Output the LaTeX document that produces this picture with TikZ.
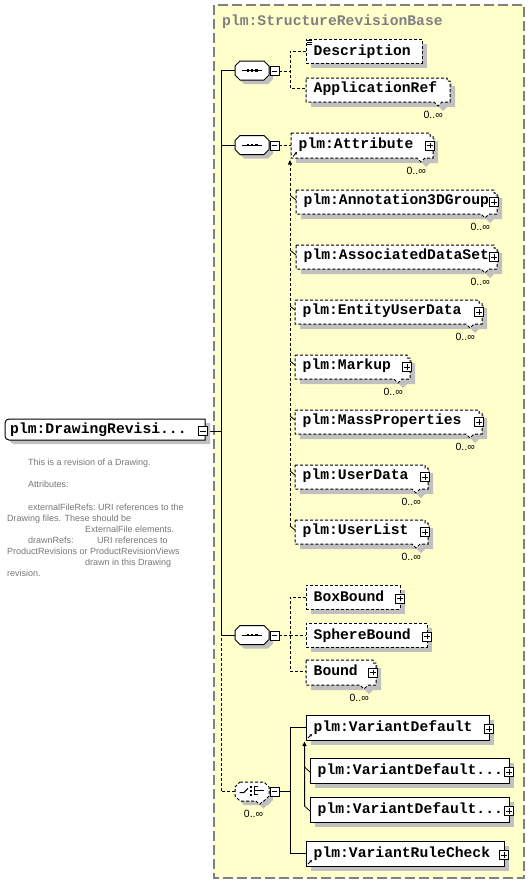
\documentclass[tikz,border=0pt]{standalone}
\usepackage{fontspec}
\newfontfamily\nmfont{Liberation Mono}
\newfontfamily\sansf{Liberation Sans}
\usetikzlibrary{arrows.meta,calc}
\pgfdeclarelayer{back}
\pgfdeclarelayer{conn}
\pgfsetlayers{back,conn,main}
\definecolor{bgyel}{HTML}{FFFFCC}
\definecolor{bordg}{HTML}{808080}
\definecolor{shadc}{HTML}{C0C0C0}
\definecolor{annc}{HTML}{777777}
\tikzset{
  nm/.style={font=\nmfont\bfseries\fontsize{14.7bp}{16bp}\selectfont, inner sep=0pt, text height=8bp, text depth=0bp},
  ann/.style={font=\sansf\fontsize{9bp}{11bp}\selectfont, text=annc, inner sep=0pt, anchor=base west},
  occ/.style={font=\sansf\fontsize{10.5bp}{12bp}\selectfont, inner sep=0pt, anchor=east, text height=7bp, text depth=0bp},
  dsh/.style={dash pattern=on 3bp off 2bp},
  ln/.style={line width=1bp, draw=black},
  boxnode/.style={inner sep=0pt, outer sep=0pt},
  plusb/.style={draw, fill=white, line width=1bp, minimum size=9bp, inner sep=0pt, outer sep=0pt,
    path picture={\draw[line width=1bp] ([xshift=-2.8bp]path picture bounding box.center) -- ([xshift=2.8bp]path picture bounding box.center);
                  \draw[line width=1bp] ([yshift=-2.8bp]path picture bounding box.center) -- ([yshift=2.8bp]path picture bounding box.center);}},
  minusb/.style={draw, fill=white, line width=1bp, minimum size=9bp, inner sep=0pt, outer sep=0pt,
    path picture={\draw[line width=1bp] ([xshift=-2.8bp]path picture bounding box.center) -- ([xshift=2.8bp]path picture bounding box.center);}},
  refarrow/.style={line width=0.8bp, -{Stealth[length=2.8bp,width=2.8bp]}},
  subarrow/.style={-{Triangle[length=4.5bp,width=4bp]}},
}
% single element box: name, x0, y0, x1, y1, style, text
\newcommand\elsingle[7]{%
  \fill[shadc] (#2+5,#3+5) rectangle (#4+5,#5+5);
  \node[boxnode, draw, fill=white, line width=1bp, #6, minimum width={(#4-#2)*1bp}, minimum height={(#5-#3)*1bp}] (#1) at ({(#2+#4)/2},{(#3+#5)/2}) {};
  \node[nm, anchor=west] (#1-t) at ([xshift=7.5bp]#1.west) {#7};
}
% multiple-occurrence element box: name, x0, y0, x1, y1 (front box), style, text
\newcommand\elmulti[7]{%
  \fill[shadc] (#2+5,#3+5) -- (#4+5,#3+5) -- (#4+5,#3+8) -- (#4+8,#3+8) -- (#4+8,#5+8) -- (#4,#5+8) -- (#4-4,#5+12) -- (#4-8,#5+8) -- (#2+5,#5+8) -- cycle;
  \draw[line width=1bp, fill=white, #6] (#2,#3) -- (#4,#3) -- (#4,#3+3) -- (#4+3,#3+3) -- (#4+3,#5+3) -- (#4-5,#5+3) -- (#4-9,#5+7) -- (#4-13,#5+3) -- (#2,#5+3) -- cycle;
  \node[boxnode, minimum width={(#4-#2)*1bp}, minimum height={(#5-#3)*1bp}] (#1) at ({(#2+#4)/2},{(#3+#5)/2}) {};
  \node[nm, anchor=west] (#1-t) at ([xshift=7.5bp]#1.west) {#7};
  \node[occ] (#1-o) at (#4-4,#5+16) {0..∞};
}
% sequence compositor icon: name, center
\newcommand\seqicon[2]{%
  \begin{scope}[shift={#2}]
    \fill[shadc] (-8,-5.5) -- (16,-5.5) -- (21,-0.5) -- (21,8.5) -- (16,13.5) -- (-8,13.5) -- (-13,8.5) -- (-13,-0.5) -- cycle;
    \draw[line width=1bp, fill=white] (-12,-9.5) -- (12,-9.5) -- (17,-4.5) -- (17,4.5) -- (12,9.5) -- (-12,9.5) -- (-17,4.5) -- (-17,-4.5) -- cycle;
    \draw[line width=1bp] (-10.5,0) -- (9.5,0);
    \fill (-5.5,-1.2) rectangle (-2.8,1.2);
    \fill (-1.5,-1.2) rectangle (1.2,1.2);
    \fill (2.9,-1.2) rectangle (5.5,1.2);
    \node[boxnode, minimum width=34bp, minimum height=19bp] (#1) at (0,0) {};
    \node[minusb] (#1-m) at (22.5,0.5) {};
  \end{scope}}
\begin{document}
\begin{tikzpicture}[x=1bp,y=-1bp]
\useasboundingbox (0,0) rectangle (530,884);
\begin{pgfonlayer}{back}
  \fill[white] (0,0) rectangle (530,884);
  \draw[fill=bgyel, draw=bordg, line width=1.5bp, dash pattern=on 10bp off 4bp] (214,5) rectangle (524,878);
\end{pgfonlayer}

% title
\node[nm, text=bordg, anchor=west] (title) at (222,21) {plm:StructureRevisionBase};

% root element
\fill[shadc] (210,423) -- (14,423) arc[start angle=270,end angle=180,radius=4] -- (10,440) arc[start angle=180,end angle=90,radius=4] -- (210,444) -- cycle;
\draw[line width=1bp, fill=white] (205,419) -- (9,419) arc[start angle=270,end angle=180,radius=4] -- (5,436) arc[start angle=180,end angle=90,radius=4] -- (205,440) -- cycle;
\node[boxnode, minimum width=200bp, minimum height=21bp] (root) at (105,429.5) {};
\node[nm, anchor=west] (root-t) at (10,429.5) {plm:DrawingRevisi...};
\node[minusb] (root-m) at (203,431) {};

% annotation
\node[ann] (a1) at (28,465.5) {This is a revision of a Drawing.};
\node[ann] (a2) at (28,487.5) {Attributes:};
\node[ann] (a3) at (28,510.5) {externalFileRefs:};
\node[ann] (a3b) at (98,510.5) {URI references to the};
\node[ann] (a4) at (7,521.5) {Drawing files. These should be};
\node[ann] (a5) at (85,532.5) {ExternalFile elements.};
\node[ann] (a6) at (28,543.5) {drawnRefs:};
\node[ann] (a6b) at (97,543.5) {URI references to};
\node[ann] (a7) at (7,554.5) {ProductRevisions or ProductRevisionViews};
\node[ann] (a8) at (85,565.5) {drawn in this Drawing};
\node[ann] (a9) at (7,576.5) {revision.};

% compositors
\seqicon{seq1}{(252,70.5)}
\seqicon{seq2}{(252,145)}
\seqicon{seq3}{(252,635)}
% choice
\begin{scope}[shift={(252,791.5)}]
  \fill[shadc] (-8,-5.5) -- (16,-5.5) -- (21,-0.5) -- (21,8.5) -- (16,13.5) -- (15,13.5) -- (11.5,17) -- (8,13.5) -- (-8,13.5) -- (-13,8.5) -- (-13,-0.5) -- cycle;
  \draw[line width=1bp, fill=white, dsh] (-12,-9.5) -- (12,-9.5) -- (17,-4.5) -- (17,4.5) -- (12,9.5) -- (11,9.5) -- (7.5,13) -- (4,9.5) -- (-12,9.5) -- (-17,4.5) -- (-17,-4.5) -- cycle;
  \draw[line width=1bp] (-12.3,1.2) -- (-8.3,1.2) -- (-4,-3.2);
  \fill (-2.5,-5.8) rectangle (0,-3.8);
  \fill (-2.5,-1.8) rectangle (0,0.2);
  \fill (-2.5,2.2) rectangle (0,4.2);
  \draw[line width=1bp] (2,-4.8) -- (2,3.2);
  \draw[line width=1bp] (2,-4.8) -- (6,-4.8) (2,-0.8) -- (12,-0.8) (2,3.2) -- (6,3.2);
  \node[boxnode, minimum width=34bp, minimum height=19bp] (ch) at (0,0) {};
  \node[minusb] (ch-m) at (22.5,0) {};
  \node[occ, anchor=center] (ch-o) at (1.5,22.5) {0..∞};
\end{scope}

% sequence 1 members
\elsingle{desc}{306}{39}{422}{63}{dsh}{Description}
\draw[line width=0.8bp] (306.5,40.6) -- (311.5,40.6) (306.5,42.4) -- (311.5,42.4) (306.5,44.2) -- (311.5,44.2);
\elmulti{appref}{306}{78}{447}{99}{dsh}{ApplicationRef}

% sequence 2 members
\elmulti{attr}{291}{133}{430}{155}{dsh}{plm:Attribute}
\node[plusb] (attr-p) at ([yshift=-1.5bp]attr.east) {};
\draw[refarrow] ([shift={(2,1.5)}]attr.south west) -- ++(4,-4.5);
\elmulti{ann3d}{296}{190}{494}{211}{dsh}{plm:Annotation3DGroup}
\node[plusb] (ann3d-p) at ([yshift=-1.5bp]ann3d.east) {};
\elmulti{assoc}{296}{245}{494}{266}{dsh}{plm:AssociatedDataSet}
\node[plusb] (assoc-p) at ([yshift=-1.5bp]assoc.east) {};
\elmulti{entity}{295}{300}{479}{321}{dsh}{plm:EntityUserData}
\node[plusb] (entity-p) at ([yshift=-1.5bp]entity.east) {};
\elmulti{markup}{295}{355}{407}{376}{dsh}{plm:Markup}
\node[plusb] (markup-p) at ([yshift=-1.5bp]markup.east) {};
\elmulti{mass}{295}{410}{479}{431}{dsh}{plm:MassProperties}
\node[plusb] (mass-p) at ([yshift=-1.5bp]mass.east) {};
\elmulti{udata}{295}{465}{425}{486}{dsh}{plm:UserData}
\node[plusb] (udata-p) at ([yshift=-1.5bp]udata.east) {};
\elmulti{ulist}{295}{520}{425}{541}{dsh}{plm:UserList}
\node[plusb] (ulist-p) at ([yshift=-1.5bp]ulist.east) {};

% sequence 3 members
\elsingle{boxb}{306}{585}{400}{609}{dsh}{BoxBound}
\node[plusb] (boxb-p) at ([yshift=-1.5bp]boxb.east) {};
\elsingle{sphere}{306}{623}{427}{647}{dsh}{SphereBound}
\node[plusb] (sphere-p) at ([yshift=-1.5bp]sphere.east) {};
\elmulti{bound}{306}{660}{373}{682}{dsh}{Bound}
\node[plusb] (bound-p) at ([yshift=-1.5bp]bound.east) {};

% choice members
\elsingle{vdef}{306}{715}{489}{740}{solid}{plm:VariantDefault}
\node[plusb] (vdef-p) at ([yshift=-1.5bp]vdef.east) {};
\draw[refarrow] ([shift={(2,-2)}]vdef.south west) -- ++(4,-4);
\elsingle{vd2}{310}{758}{509}{783}{solid}{plm:VariantDefault...}
\node[plusb] (vd2-p) at ([yshift=-1.5bp]vd2.east) {};
\elsingle{vd3}{310}{797}{509}{822}{solid}{plm:VariantDefault...}
\node[plusb] (vd3-p) at ([yshift=-1.5bp]vd3.east) {};
\elsingle{vrule}{306}{841}{504}{866}{solid}{plm:VariantRuleCheck}
\node[plusb] (vrule-p) at ([yshift=-1.5bp]vrule.east) {};
\draw[refarrow] ([shift={(2,-2)}]vrule.south west) -- ++(4,-4);

% connectors
\begin{pgfonlayer}{conn}
  \coordinate (tr) at (221,431);
  \coordinate (jx) at (290,0);
  \draw[ln] (root-m.east) -- (tr);
  \draw[ln] (seq1.west) -| (tr);
  \draw[ln] (seq2.west) -| (tr);
  \draw[ln] (seq3.west) -| (tr);
  \draw[ln, dsh] (ch.west) -| (tr |- seq3.west);
  % sequence 1
  \draw[ln, dsh] (seq1-m.east) -- (seq1-m.east -| jx);
  \draw[ln, dsh] (desc.west) -| (jx |- appref.west) -- (appref.west);
  % sequence 2
  \draw[ln, dsh] (seq2-m.east) -- (seq2-m.east -| attr.west);
  \coordinate (attrtip) at (290,160);
  \draw[ln, dsh, subarrow] ($(ulist.north west)+(-5,6)$) -- (attrtip);
  \foreach \m in {ann3d,assoc,entity,markup,mass,udata,ulist}{
    \draw[line width=0.8bp] ($(\m.north west)+(-5,6)$) -- ($(\m.north west)+(0,10)$);
  }
  % sequence 3
  \draw[ln, dsh] (seq3-m.east) -- (seq3-m.east -| jx);
  \draw[ln, dsh] (boxb.west) -| (jx |- bound.west) -- (bound.west);
  \draw[ln, dsh] (jx |- sphere.west) -- (sphere.west);
  % choice
  \draw[ln] (ch-m.east) -- (ch-m.east -| jx);
  \draw[ln] (vdef.west) -| (jx |- vrule.west) -- (vrule.west);
  \coordinate (vdtip) at (304.5,741.5);
  \draw[ln, subarrow] ($(vd3.north west)+(-5.5,9)$) -- (vdtip);
  \foreach \m in {vd2,vd3}{
    \draw[line width=0.8bp] ($(\m.north west)+(-5.5,9)$) -- ($(\m.north west)+(0,14)$);
  }
\end{pgfonlayer}
\end{tikzpicture}
\end{document}
